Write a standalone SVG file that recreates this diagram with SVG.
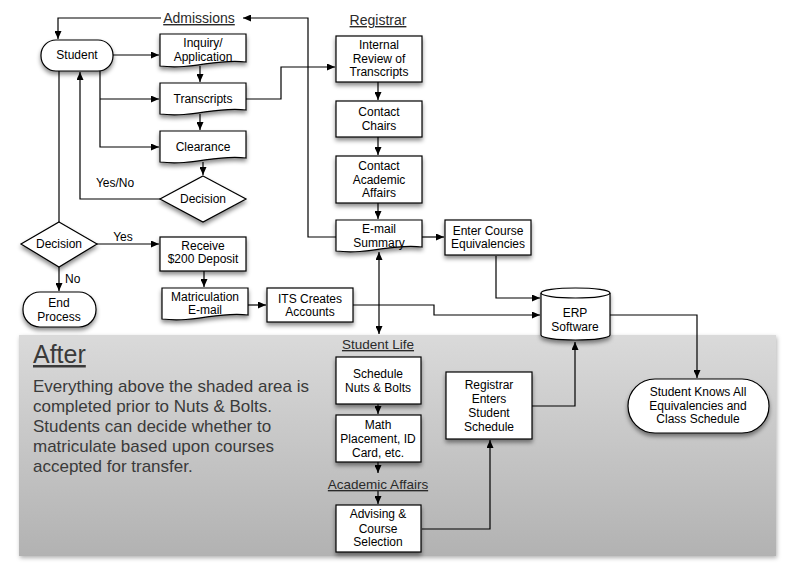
<svg xmlns="http://www.w3.org/2000/svg" width="789" height="576" viewBox="0 0 789 576">
<defs>
<linearGradient id="shade" x1="0" y1="0" x2="0" y2="1">
<stop offset="0" stop-color="#dadada"/>
<stop offset="1" stop-color="#b2b2b2"/>
</linearGradient>
<filter id="sh" x="-20%" y="-20%" width="140%" height="150%">
<feDropShadow dx="0" dy="3" stdDeviation="2" flood-color="#000" flood-opacity="0.45"/>
</filter>
<filter id="sh2" x="-5%" y="-5%" width="110%" height="110%">
<feDropShadow dx="1" dy="2" stdDeviation="2" flood-color="#000" flood-opacity="0.3"/>
</filter>
<marker id="ah" viewBox="0 0 8 7" refX="8" refY="3.5" markerWidth="8" markerHeight="7" markerUnits="userSpaceOnUse" orient="auto-start-reverse">
<path d="M0,0 L8,3.5 L0,7 z" fill="#000"/>
</marker>
</defs>
<style>
.n{fill:#fff;stroke:#000;stroke-width:1.2;filter:url(#sh)}
.t{font-family:"Liberation Sans",Arial,sans-serif;font-size:12px;fill:#000;text-anchor:middle}
.lab{font-family:"Liberation Sans",Arial,sans-serif;font-size:14px;fill:#2a2a2a;text-anchor:middle;text-decoration:underline}
.c{fill:none;stroke:#000;stroke-width:1.2}
.a{marker-end:url(#ah)}
.body{font-family:"Liberation Sans",Arial,sans-serif;font-size:17px;fill:#3a3a3a}
</style>
<rect id="shaded-area" x="19" y="335" width="757" height="221" fill="url(#shade)" filter="url(#sh2)"/>
<g id="after-note">
<text x="33" y="363" class="body" style="font-size:25px;text-decoration:underline">After</text>
<text class="body"><tspan x="33" y="392">Everything above the shaded area is</tspan><tspan x="33" y="412">completed prior to Nuts &amp; Bolts.</tspan><tspan x="33" y="432">Students can decide whether to</tspan><tspan x="33" y="452">matriculate based upon courses</tspan><tspan x="33" y="472">accepted for transfer.</tspan></text>
</g>
<g id="connectors">
<path class="c a" d="M161,18 H58 V39"/>
<path class="c a" d="M336,237 H308 V18 H243"/>
<path class="c a" d="M113,55 H159"/>
<path class="c a" d="M100,71 V147 H159"/>
<path class="c a" d="M100,99 H159"/>
<path class="c a" d="M200,66 V82"/>
<path class="c a" d="M200,114 V130"/>
<path class="c a" d="M203,162 V175"/>
<path class="c a" d="M160,199 H80 V72"/>
<path class="c" d="M59,71 V222"/>
<path class="c a" d="M246,99 H281 V67 H335"/>
<path class="c a" d="M378,82 V100"/>
<path class="c a" d="M378,137 V155"/>
<path class="c a" d="M378,203 V219"/>
<path class="c a" d="M422,237 H444"/>
<path class="c a" d="M496,256 V298 H540"/>
<path class="c a" d="M353,305 H434 V315 H540"/>
<path class="c a" d="M379,252 V334" marker-start="url(#ah)"/>
<path class="c a" d="M610,315 H697 V378"/>
<path class="c a" d="M532,406 H575 V342"/>
<path class="c a" d="M422,529 H490 V440"/>
<path class="c a" d="M378,404 V414"/>
<path class="c a" d="M378,462 V473"/>
<path class="c a" d="M378,490 V504"/>
<path class="c a" d="M97,244 H159"/>
<path class="c a" d="M59,267 V291"/>
<path class="c a" d="M204,271 V287"/>
<path class="c a" d="M248,305 H266"/>
</g>
<g id="label-admissions"><text x="199" y="23" class="lab">Admissions</text></g>
<g id="label-registrar"><text x="378" y="25" class="lab">Registrar</text></g>
<g id="label-student-life"><text x="378" y="349" class="lab" style="font-size:13.5px">Student Life</text></g>
<g id="label-academic-affairs"><text x="378" y="489" class="lab" style="font-size:13.5px">Academic Affairs</text></g>
<g id="student">
<rect class="n" x="41" y="40" width="72" height="31" rx="15"/>
<text class="t" x="77" y="59">Student</text>
</g>
<g id="inquiry">
<path class="n" d="M160,34 h86 v28 c-30,-4 -52,8 -86,4 z"/>
<text class="t"><tspan x="203" y="47">Inquiry/</tspan><tspan x="203" y="61">Application</tspan></text>
</g>
<g id="transcripts">
<path class="n" d="M160,83 h86 v27 c-30,-4 -52,8 -86,4 z"/>
<text class="t" x="203" y="103">Transcripts</text>
</g>
<g id="clearance">
<path class="n" d="M160,131 h86 v27 c-30,-4 -52,8 -86,4 z"/>
<text class="t" x="203" y="151">Clearance</text>
</g>
<g id="decision-upper">
<polygon class="n" points="203,176 246,199 203,222 160,199"/>
<text class="t" x="203" y="203">Decision</text>
</g>
<g id="label-yes-no"><text class="t" x="115" y="187">Yes/No</text></g>
<g id="decision-lower">
<polygon class="n" points="59,222 97,244 59,267 21,244"/>
<text class="t" x="59" y="248">Decision</text>
</g>
<g id="label-yes"><text class="t" x="123" y="241">Yes</text></g>
<g id="label-no"><text class="t" x="65" y="283" style="text-anchor:start">No</text></g>
<g id="end-process">
<rect class="n" x="23" y="292" width="73" height="35" rx="17"/>
<text class="t"><tspan x="59" y="307">End</tspan><tspan x="59" y="321">Process</tspan></text>
</g>
<g id="receive-deposit">
<rect class="n" x="160" y="237" width="86" height="34"/>
<text class="t"><tspan x="203" y="250">Receive</tspan><tspan x="203" y="263">$200 Deposit</tspan></text>
</g>
<g id="matriculation-email">
<path class="n" d="M162,288 h86 v27 c-30,-4 -52,8 -86,4 z"/>
<text class="t"><tspan x="205" y="301">Matriculation</tspan><tspan x="205" y="314">E-mail</tspan></text>
</g>
<g id="its-accounts">
<rect class="n" x="267" y="288" width="86" height="34"/>
<text class="t"><tspan x="310" y="303">ITS Creates</tspan><tspan x="310" y="316">Accounts</tspan></text>
</g>
<g id="internal-review">
<rect class="n" x="336" y="36" width="86" height="46"/>
<text class="t"><tspan x="379" y="49">Internal</tspan><tspan x="379" y="63">Review of</tspan><tspan x="379" y="76">Transcripts</tspan></text>
</g>
<g id="contact-chairs">
<rect class="n" x="336" y="101" width="86" height="36"/>
<text class="t"><tspan x="379" y="116">Contact</tspan><tspan x="379" y="130">Chairs</tspan></text>
</g>
<g id="contact-academic-affairs">
<rect class="n" x="336" y="156" width="86" height="47"/>
<text class="t"><tspan x="379" y="170">Contact</tspan><tspan x="379" y="184">Academic</tspan><tspan x="379" y="197">Affairs</tspan></text>
</g>
<g id="email-summary">
<path class="n" d="M336,220 h86 v27 c-30,-4 -52,8 -86,4 z"/>
<text class="t"><tspan x="379" y="233">E-mail</tspan><tspan x="379" y="247">Summary</tspan></text>
</g>
<g id="enter-course-equivalencies">
<rect class="n" x="445" y="220" width="86" height="35"/>
<text class="t"><tspan x="488" y="235">Enter Course</tspan><tspan x="488" y="248">Equivalencies</tspan></text>
</g>
<g id="erp-software">
<path class="n" d="M541,293 V335 A34.5,5 0 0 0 610,335 V293 A34.5,5 0 0 0 541,293 Z"/>
<path class="c" d="M541,293 A34.5,5 0 0 0 610,293"/>
<text class="t"><tspan x="575" y="317">ERP</tspan><tspan x="575" y="331">Software</tspan></text>
</g>
<g id="student-knows">
<rect class="n" x="628" y="379" width="141" height="54" rx="27"/>
<text class="t"><tspan x="698" y="396">Student Knows All</tspan><tspan x="698" y="410">Equivalencies and</tspan><tspan x="698" y="423">Class Schedule</tspan></text>
</g>
<g id="registrar-enters">
<rect class="n" x="446" y="372" width="86" height="67"/>
<text class="t"><tspan x="489" y="389">Registrar</tspan><tspan x="489" y="403">Enters</tspan><tspan x="489" y="417">Student</tspan><tspan x="489" y="431">Schedule</tspan></text>
</g>
<g id="schedule-nuts-bolts">
<rect class="n" x="336" y="357" width="85" height="47"/>
<text class="t"><tspan x="378" y="378">Schedule</tspan><tspan x="378" y="392">Nuts &amp; Bolts</tspan></text>
</g>
<g id="math-placement">
<rect class="n" x="336" y="415" width="85" height="47"/>
<text class="t"><tspan x="378" y="429">Math</tspan><tspan x="378" y="443">Placement, ID</tspan><tspan x="378" y="457">Card, etc.</tspan></text>
</g>
<g id="advising">
<rect class="n" x="336" y="505" width="85" height="47"/>
<text class="t"><tspan x="378" y="518">Advising &amp;</tspan><tspan x="378" y="533">Course</tspan><tspan x="378" y="546">Selection</tspan></text>
</g>
</svg>
